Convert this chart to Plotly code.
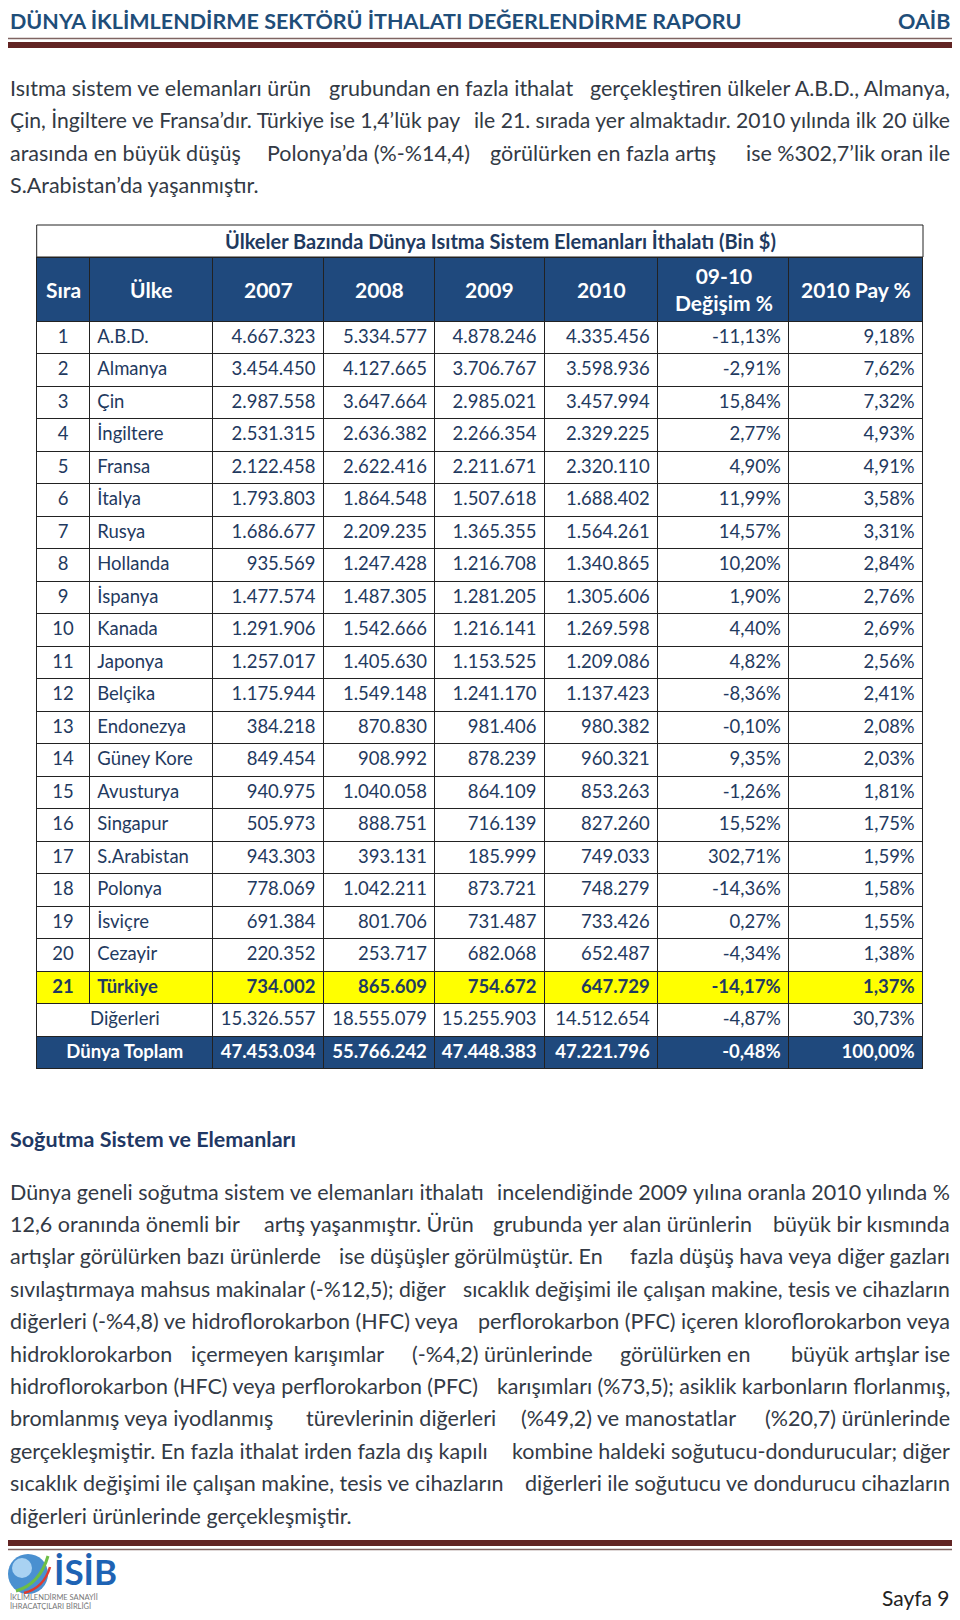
import plotly.graph_objects as go

# the page body has an 8px margin, so the figure is drawn 8px in and 16px smaller
PAGE_W, PAGE_H = 960, 1620
OFF = 8
FW, FH = PAGE_W - 2 * OFF, PAGE_H - 2 * OFF
NB = "\u00a0"

# ---- data ---------------------------------------------------------------
RANKS = [str(i) for i in range(1, 22)]
COUNTRIES = ["A.B.D.", "Almanya", "Çin", "İngiltere", "Fransa", "İtalya", "Rusya",
             "Hollanda", "İspanya", "Kanada", "Japonya", "Belçika", "Endonezya",
             "Güney Kore", "Avusturya", "Singapur", "S.Arabistan", "Polonya",
             "İsviçre", "Cezayir", "Türkiye"]
IMP_2007 = [4667323, 3454450, 2987558, 2531315, 2122458, 1793803, 1686677, 935569,
            1477574, 1291906, 1257017, 1175944, 384218, 849454, 940975, 505973,
            943303, 778069, 691384, 220352, 734002]
IMP_2008 = [5334577, 4127665, 3647664, 2636382, 2622416, 1864548, 2209235, 1247428,
            1487305, 1542666, 1405630, 1549148, 870830, 908992, 1040058, 888751,
            393131, 1042211, 801706, 253717, 865609]
IMP_2009 = [4878246, 3706767, 2985021, 2266354, 2211671, 1507618, 1365355, 1216708,
            1281205, 1216141, 1153525, 1241170, 981406, 878239, 864109, 716139,
            185999, 873721, 731487, 682068, 754672]
IMP_2010 = [4335456, 3598936, 3457994, 2329225, 2320110, 1688402, 1564261, 1340865,
            1305606, 1269598, 1209086, 1137423, 980382, 960321, 853263, 827260,
            749033, 748279, 733426, 652487, 647729]
CHANGE_0910 = [-11.13, -2.91, 15.84, 2.77, 4.90, 11.99, 14.57, 10.20, 1.90, 4.40, 4.82,
               -8.36, -0.10, 9.35, -1.26, 15.52, 302.71, -14.36, 0.27, -4.34, -14.17]
SHARE_2010 = [9.18, 7.62, 7.32, 4.93, 4.91, 3.58, 3.31, 2.84, 2.76, 2.69, 2.56, 2.41,
              2.08, 2.03, 1.81, 1.75, 1.59, 1.58, 1.55, 1.38, 1.37]
HIGHLIGHT = "Türkiye"   # shown bold on yellow

OTHERS_LABEL = "Diğerleri"
OTHERS_IMP = [15326557, 18555079, 15255903, 14512654]
OTHERS_CHANGE = -4.87
OTHERS_SHARE = 30.73
WORLD_LABEL = "Dünya Toplam"
WORLD_IMP = [47453034, 55766242, 47448383, 47221796]
WORLD_CHANGE = -0.48
WORLD_SHARE = 100.00

HEADERS = ["Sıra", "Ülke", "2007", "2008", "2009", "2010", "09-10<br>Değişim %", "2010 Pay %"]
TABLE_TITLE = "Ülkeler Bazında Dünya Isıtma Sistem Elemanları İthalatı (Bin $)"
PAGE_TITLE = "DÜNYA İKLİMLENDİRME SEKTÖRÜ İTHALATI DEĞERLENDİRME RAPORU"

PARA1 = [
    "Isıtma sistem ve elemanları ürün grubundan en fazla ithalat gerçekleştiren ülkeler A.B.D., Almanya,",
    "Çin, İngiltere ve Fransa’dır. Türkiye ise 1,4’lük pay ile 21. sırada yer almaktadır. 2010 yılında ilk 20 ülke",
    "arasında en büyük düşüş Polonya’da (%-%14,4) görülürken en fazla artış ise %302,7’lik oran ile",
    "S.Arabistan’da yaşanmıştır.",
]
SECTION = "Soğutma Sistem ve Elemanları"
PARA2 = [
    "Dünya geneli soğutma sistem ve elemanları ithalatı incelendiğinde 2009 yılına oranla 2010 yılında %",
    "12,6 oranında önemli bir artış yaşanmıştır. Ürün grubunda yer alan ürünlerin büyük bir kısmında",
    "artışlar görülürken bazı ürünlerde ise düşüşler görülmüştür. En fazla düşüş hava veya diğer gazları",
    "sıvılaştırmaya mahsus makinalar (-%12,5); diğer sıcaklık değişimi ile çalışan makine, tesis ve cihazların",
    "diğerleri (-%4,8) ve hidroflorokarbon (HFC) veya perflorokarbon (PFC) içeren kloroflorokarbon veya",
    "hidroklorokarbon içermeyen karışımlar (-%4,2) ürünlerinde görülürken en büyük artışlar ise",
    "hidroflorokarbon (HFC) veya perflorokarbon (PFC) karışımları (%73,5); asiklik karbonların florlanmış,",
    "bromlanmış veya iyodlanmış türevlerinin diğerleri (%49,2) ve manostatlar (%20,7) ürünlerinde",
    "gerçekleşmiştir. En fazla ithalat irden fazla dış kapılı kombine haldeki soğutucu-dondurucular; diğer",
    "sıcaklık değişimi ile çalışan makine, tesis ve cihazların diğerleri ile soğutucu ve dondurucu cihazların",
    "diğerleri ürünlerinde gerçekleşmiştir.",
]

# ---- style --------------------------------------------------------------
FONT = "Lato"
NAVY = "#1F3A60"
HEAD_BLUE = "#1F497D"
TITLE_BLUE = "#1F4E79"
TEXT = "#333a45"
LINE = "#222222"
YELLOW = "#FFFF00"
CLEAR = "rgba(0,0,0,0)"

COL_EDGES = [36.7, 89.3, 213.0, 323.5, 435.0, 544.6, 658.0, 789.0, 923.0]
COL_W = [b - a for a, b in zip(COL_EDGES, COL_EDGES[1:])]
TOP = 225.0
TITLE_H = 32.0
HEAD_H = 64.0
ROW_H = 32.5
ALIGN = ["center", "left", "right", "right", "right", "right", "right", "right"]
CELL_SIZE = 18.5


def fx(x):  # page px -> paper fraction
    return (x - OFF) / FW


def fy(y):
    return 1 - (y - OFF) / FH


def tr_int(v):
    return f"{v:,}".replace(",", ".")


def tr_pct(v):
    return f"{v:.2f}".replace(".", ",") + "%"


def nb(s):
    return s.replace(" ", NB)


x_dom = [fx(COL_EDGES[0]), fx(COL_EDGES[-1])]

columns = [RANKS, [nb(c) for c in COUNTRIES],
           [tr_int(v) for v in IMP_2007], [tr_int(v) for v in IMP_2008],
           [tr_int(v) for v in IMP_2009], [tr_int(v) for v in IMP_2010],
           [tr_pct(v) for v in CHANGE_0910], [tr_pct(v) for v in SHARE_2010]]
hi = COUNTRIES.index(HIGHLIGHT)
plain_rows = [[v for i, v in enumerate(col) if i != hi] for col in columns]
hi_row = [col[hi] for col in columns]
n_plain = len(COUNTRIES) - 1

fig = go.Figure()

# column header + plain country rows
y_head = TOP + TITLE_H
fig.add_trace(go.Table(
    domain=dict(x=x_dom, y=[fy(y_head + HEAD_H + n_plain * ROW_H + 2), fy(y_head)]),
    columnwidth=COL_W,
    header=dict(values=[""] * len(HEADERS), height=HEAD_H, fill_color=HEAD_BLUE,
                line=dict(color=LINE, width=1)),
    cells=dict(values=plain_rows, height=ROW_H, align=ALIGN,
               fill_color="white", line=dict(color=LINE, width=1),
               font=dict(family=FONT, size=CELL_SIZE, color=NAVY)),
))

# highlighted Türkiye row
y_hi = y_head + HEAD_H + n_plain * ROW_H
fig.add_trace(go.Table(
    domain=dict(x=x_dom, y=[fy(y_hi + ROW_H + 3), fy(y_hi)]),
    columnwidth=COL_W,
    header=dict(values=hi_row, height=ROW_H, align=ALIGN,
                fill_color=YELLOW, line=dict(color=LINE, width=1),
                font=dict(family=FONT, size=CELL_SIZE, color=NAVY, weight="bold")),
    cells=dict(values=[[""] for _ in hi_row], height=1, fill_color=CLEAR,
               line=dict(color=CLEAR, width=0)),
))

# Diğerleri + Dünya Toplam (first two columns merged)
y_bot = y_hi + ROW_H
merged_w = [COL_W[0] + COL_W[1]] + COL_W[2:]
merged_align = ["center"] + ALIGN[2:]
fig.add_trace(go.Table(
    domain=dict(x=x_dom, y=[fy(y_bot + 2 * ROW_H + 2), fy(y_bot)]),
    columnwidth=merged_w,
    header=dict(values=[OTHERS_LABEL] + [tr_int(v) for v in OTHERS_IMP]
                + [tr_pct(OTHERS_CHANGE), tr_pct(OTHERS_SHARE)],
                height=ROW_H, align=merged_align,
                fill_color="white", line=dict(color=LINE, width=1),
                font=dict(family=FONT, size=CELL_SIZE, color=NAVY)),
    cells=dict(values=[[nb(WORLD_LABEL)]] + [[tr_int(v)] for v in WORLD_IMP]
               + [[tr_pct(WORLD_CHANGE)], [tr_pct(WORLD_SHARE)]],
               height=ROW_H, align=merged_align,
               fill_color=HEAD_BLUE, line=dict(color=LINE, width=1),
               font=dict(family=FONT, size=CELL_SIZE, color="white", weight="bold")),
))

# ---- page text ------------------------------------------------------------
ann = []


def put(x, y, s, anchor="left", size=21, color=TEXT, weight="normal"):
    ann.append(dict(x=fx(x), y=fy(y), xref="paper", yref="paper", text=s,
                    showarrow=False, xanchor=anchor, yanchor="middle",
                    font=dict(family=FONT, size=size, color=color, weight=weight)))


# rough Lato regular advance widths (em), used only to spread justified lines
EM = {" ": 0.19, "t": 0.35, "%": 0.80, "m": 0.84, "w": 0.76, "M": 0.86, "W": 0.95}
for chars, w in [("iıljIİ", 0.25), (".,:;!", 0.24), ("’'", 0.20), ("()", 0.30),
                 ("fr-", 0.34), ("sş", 0.43), ("cçz", 0.46), ("kvyxgğ", 0.50),
                 ("ae", 0.51), ("bdhnopquüö", 0.56), ("0123456789", 0.58),
                 ("ESTFP", 0.55), ("ABCDHÇÜUR", 0.68)]:
    EM.update({c: w for c in chars})


def text_w(s, size):
    return size * sum(EM.get(c, 0.56 if c.isupper() else 0.52) for c in s)


LEFT, RIGHT = 8, 952
BODY = 21.5


def put_line(line, y, justify):
    avail = RIGHT - LEFT
    size = BODY
    natural = text_w(line, size)
    if natural > avail - 28:
        size = size * (avail - 28) / natural
        natural = avail - 28
    if not justify:
        put(LEFT, y, line, size=size)
        return
    slack = avail - natural
    words = line.split(" ")
    starts, p = [], 0.0
    for w in words:
        starts.append(p)
        p += text_w(w + " ", size)
    ends = [s + text_w(w, size) for s, w in zip(starts, words)]
    extra = slack / (len(words) - 1)
    k = 2 if slack < 40 else (3 if slack < 70 else (4 if slack < 110 else 5))
    grp = [min(k - 1, int((a + b) / 2 / natural * k)) for a, b in zip(starts, ends)]
    for g in range(k):
        idx = [i for i, gg in enumerate(grp) if gg == g]
        if not idx:
            continue
        ia, ib = idx[0], idx[-1]
        chunk = " ".join(words[ia:ib + 1])
        if ia == 0:
            put(LEFT, y, chunk, size=size)
        elif ib == len(words) - 1:
            put(RIGHT, y, chunk, anchor="right", size=size)
        else:
            x0 = LEFT + starts[ia] + ia * extra
            x1 = LEFT + ends[ib] + ib * extra
            put((x0 + x1) / 2, y, chunk, anchor="center", size=size)


put(LEFT, 21, PAGE_TITLE, size=21.5, color=TITLE_BLUE, weight="bold")
put(RIGHT, 21, "OAİB", anchor="right", size=21.5, color=TITLE_BLUE, weight="bold")

for i, line in enumerate(PARA1):
    put_line(line, 88 + i * 32.3, i < len(PARA1) - 1)

put(LEFT, 1139, SECTION, size=21.5, color="#1F3864", weight="bold")

for i, line in enumerate(PARA2):
    put_line(line, 1191.5 + i * 32.4, i < len(PARA2) - 1)

# table title and column headers
put(500, TOP + TITLE_H / 2, TABLE_TITLE, anchor="center", size=20, color=NAVY, weight="bold")
for h, a, b in zip(HEADERS, COL_EDGES, COL_EDGES[1:]):
    put((a + b) / 2, y_head + HEAD_H / 2, h, anchor="center", size=21, color="white",
        weight="bold")

# footer
put(RIGHT, 1597, "Sayfa 9", anchor="right", size=21, color="#222222")
put(52, 1571, "İSİB", size=35, color="#1E63B4", weight="bold")
put(8, 1597.5, "İKLİMLENDİRME SANAYİİ", size=7.5, color="#777777")
put(8, 1606, "İHRACATÇILARI BİRLİĞİ", size=7.5, color="#777777")


# ---- rules, title frame & logo shapes ------------------------------------
def hline(y, color, w):
    return dict(type="line", xref="paper", yref="paper", x0=0, x1=1,
                y0=fy(y), y1=fy(y), line=dict(color=color, width=w))


shapes = [
    hline(38.5, "#7F6462", 1.5),
    hline(45, "#622423", 6),
    hline(1543, "#622423", 6),
    hline(1549.5, "#7F6462", 1.5),
    dict(type="rect", xref="paper", yref="paper", x0=x_dom[0], x1=x_dom[1],
         y0=fy(TOP + TITLE_H), y1=fy(TOP), fillcolor="white",
         line=dict(color=LINE, width=1)),
    dict(type="circle", xref="paper", yref="paper", x0=fx(8), x1=fx(48),
         y0=fy(1594), y1=fy(1554), fillcolor="#4A90D0", line=dict(width=0)),
    dict(type="circle", xref="paper", yref="paper", x0=fx(12), x1=fx(32),
         y0=fy(1578), y1=fy(1558), fillcolor="#A9D2F2", line=dict(width=0)),
    dict(type="path", xref="paper", yref="paper",
         path=f"M {fx(16)},{fy(1591)} Q {fx(40)},{fy(1584)} {fx(48)},{fy(1556)}",
         line=dict(color="#6DBE45", width=3)),
    dict(type="path", xref="paper", yref="paper",
         path=f"M {fx(24)},{fy(1593)} Q {fx(44)},{fy(1588)} {fx(50)},{fy(1567)}",
         line=dict(color="#E03A2E", width=2.5)),
]

fig.update_layout(
    width=FW, height=FH,
    margin=dict(l=0, r=0, t=0, b=0),
    paper_bgcolor="white",
    plot_bgcolor="white",
    annotations=ann,
    shapes=shapes,
    showlegend=False,
)

fig.write_html("out.html")
